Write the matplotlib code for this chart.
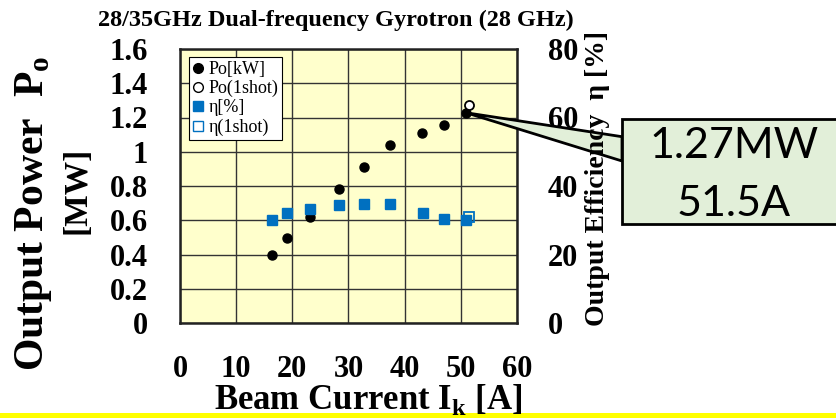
import matplotlib
matplotlib.use("Agg")
import matplotlib.pyplot as plt
from matplotlib.lines import Line2D
from matplotlib.patches import Polygon, Rectangle

# ---- data ----
current_a = [16.3, 19.1, 23.1, 28.3, 32.8, 37.3, 43.1, 47.0, 50.9]
power_mw = [0.397, 0.495, 0.619, 0.784, 0.911, 1.039, 1.111, 1.158, 1.228]
eff_current_a = [16.3, 19.1, 23.1, 28.3, 32.8, 37.3, 43.2, 47.0, 50.9]
eff_pct = [30.1, 32.2, 33.3, 34.4, 34.7, 34.7, 32.2, 30.5, 30.1]
shot_current_a = [51.4]
shot_power_mw = [1.275]
shot_eff_current_a = [51.4]
shot_eff_pct = [30.9]

x_ticks = [0, 10, 20, 30, 40, 50, 60]
y_ticks = [0, 0.2, 0.4, 0.6, 0.8, 1.0, 1.2, 1.4, 1.6]
y_tick_labels = ["0", "0.2", "0.4", "0.6", "0.8", "1", "1.2", "1.4", "1.6"]
y2_ticks = [0, 20, 40, 60, 80]

title = "28/35GHz Dual-frequency Gyrotron (28 GHz)"
callout_lines = ["1.27MW", "51.5A"]

W, H = 837, 418
BLUE = "#0070C0"
SERIF = ["Liberation Serif", "DejaVu Serif"]

fig = plt.figure(figsize=(W / 100, H / 100), dpi=100)

def fx(px):
    return px / W

def fy(py):
    return 1 - py / H

L, R, T, B = 180, 517, 49, 323
ax = fig.add_axes([fx(L), fy(B), fx(R) - fx(L), fy(T) - fy(B)])
ax.set_facecolor("#FFFFCC")
ax.set_xlim(0, 60)
ax.set_ylim(0, 1.6)
ax.set_xticks(x_ticks)
ax.set_yticks(y_ticks)
ax.set_yticklabels(y_tick_labels)
ax.grid(True, color="#333333", lw=1.0)
ax.set_axisbelow(True)
for s in ax.spines.values():
    s.set_linewidth(1.8)
    s.set_color("#222222")
ax.tick_params(length=0)
ax.tick_params(axis="x", pad=23)
ax.tick_params(axis="y", pad=23)
for lab in ax.get_xticklabels() + ax.get_yticklabels():
    lab.set_fontfamily(SERIF)
    lab.set_fontweight("bold")
    lab.set_fontsize(22)

ax2 = ax.twinx()
ax2.set_ylim(0, 80)
ax2.set_yticks(y2_ticks)
ax2.tick_params(length=0, pad=22)
for lab in ax2.get_yticklabels():
    lab.set_fontfamily(SERIF)
    lab.set_fontweight("bold")
    lab.set_fontsize(22)
for s in ax2.spines.values():
    s.set_visible(False)

ax.plot(current_a, power_mw, "o", color="black", ms=6.5, zorder=5)
ax.plot(shot_current_a, shot_power_mw, "o", mfc="white", mec="black", mew=1.3, ms=6.5, zorder=5)
ax2.plot(eff_current_a, eff_pct, "s", color=BLUE, ms=7, zorder=5)
ax2.plot(shot_eff_current_a, shot_eff_pct, "s", mfc="none", mec=BLUE, mew=1.3, ms=7, zorder=4)

handles = [
    Line2D([], [], ls="none", marker="o", color="black", ms=7),
    Line2D([], [], ls="none", marker="o", mfc="white", mec="black", ms=7),
    Line2D([], [], ls="none", marker="s", color=BLUE, ms=7),
    Line2D([], [], ls="none", marker="s", mfc="white", mec=BLUE, ms=7),
]
labels = ["Po[kW]", "Po(1shot)", "η[%]", "η(1shot)"]
leg = ax2.legend(handles, labels, loc="upper left", bbox_to_anchor=(0.028, 0.97),
                 prop={"family": SERIF, "size": 13}, frameon=True, fancybox=False,
                 edgecolor="black", framealpha=1, handlelength=0.6, handletextpad=0.25,
                 borderpad=0.2, labelspacing=0.12, borderaxespad=0)
leg.get_frame().set_linewidth(0.8)

# titles / labels
fig.text(fx(336), fy(20), title, ha="center", va="center", fontfamily=SERIF,
         fontweight="bold", fontsize=17.5)
fig.text(fx(368), fy(409), r"Beam Current I$_\mathregular{k}$ [A]", ha="center", va="baseline",
         fontfamily=SERIF, fontweight="bold", fontsize=25, zorder=35)
fig.text(fx(34), fy(213), r"Output Power  P$_\mathregular{o}$", ha="center", va="center",
         rotation=90, fontfamily=SERIF, fontweight="bold", fontsize=30)
fig.text(fx(77), fy(190), "[MW]", ha="center", va="center",
         rotation=90, fontfamily=SERIF, fontweight="bold", fontsize=24)
fig.text(fx(598), fy(178), "Output Efficiency  η [%]", ha="center", va="center",
         rotation=90, fontfamily=SERIF, fontweight="bold", fontsize=20, zorder=25)

# callout
fig.canvas.draw()
apex_disp = ax.transData.transform((current_a[-1], power_mw[-1]))
apex = fig.transFigure.inverted().transform(apex_disp)
wedge = Polygon([apex, (fx(622), fy(136.7)), (fx(622), fy(161))], closed=True,
                transform=fig.transFigure, facecolor="#E2EFD9", edgecolor="black",
                lw=2, zorder=20)
fig.add_artist(wedge)
box = Rectangle((fx(622), fy(224)), fx(860) - fx(622), fy(119.3) - fy(224),
                transform=fig.transFigure, facecolor="#E2EFD9", edgecolor="black",
                lw=2, zorder=21)
fig.add_artist(box)
fig.text(fx(734), fy(146), callout_lines[0], ha="center", va="center",
         fontfamily=["Lato", "DejaVu Sans"], fontsize=31, zorder=22)
fig.text(fx(734), fy(204), callout_lines[1], ha="center", va="center",
         fontfamily=["Lato", "DejaVu Sans"], fontsize=31, zorder=22)

# yellow bottom border
fig.add_artist(Rectangle((0, 0), 1, fy(413), transform=fig.transFigure,
                         facecolor="#FFFF00", edgecolor="none", zorder=30))

fig.savefig("out.png", dpi=100)
